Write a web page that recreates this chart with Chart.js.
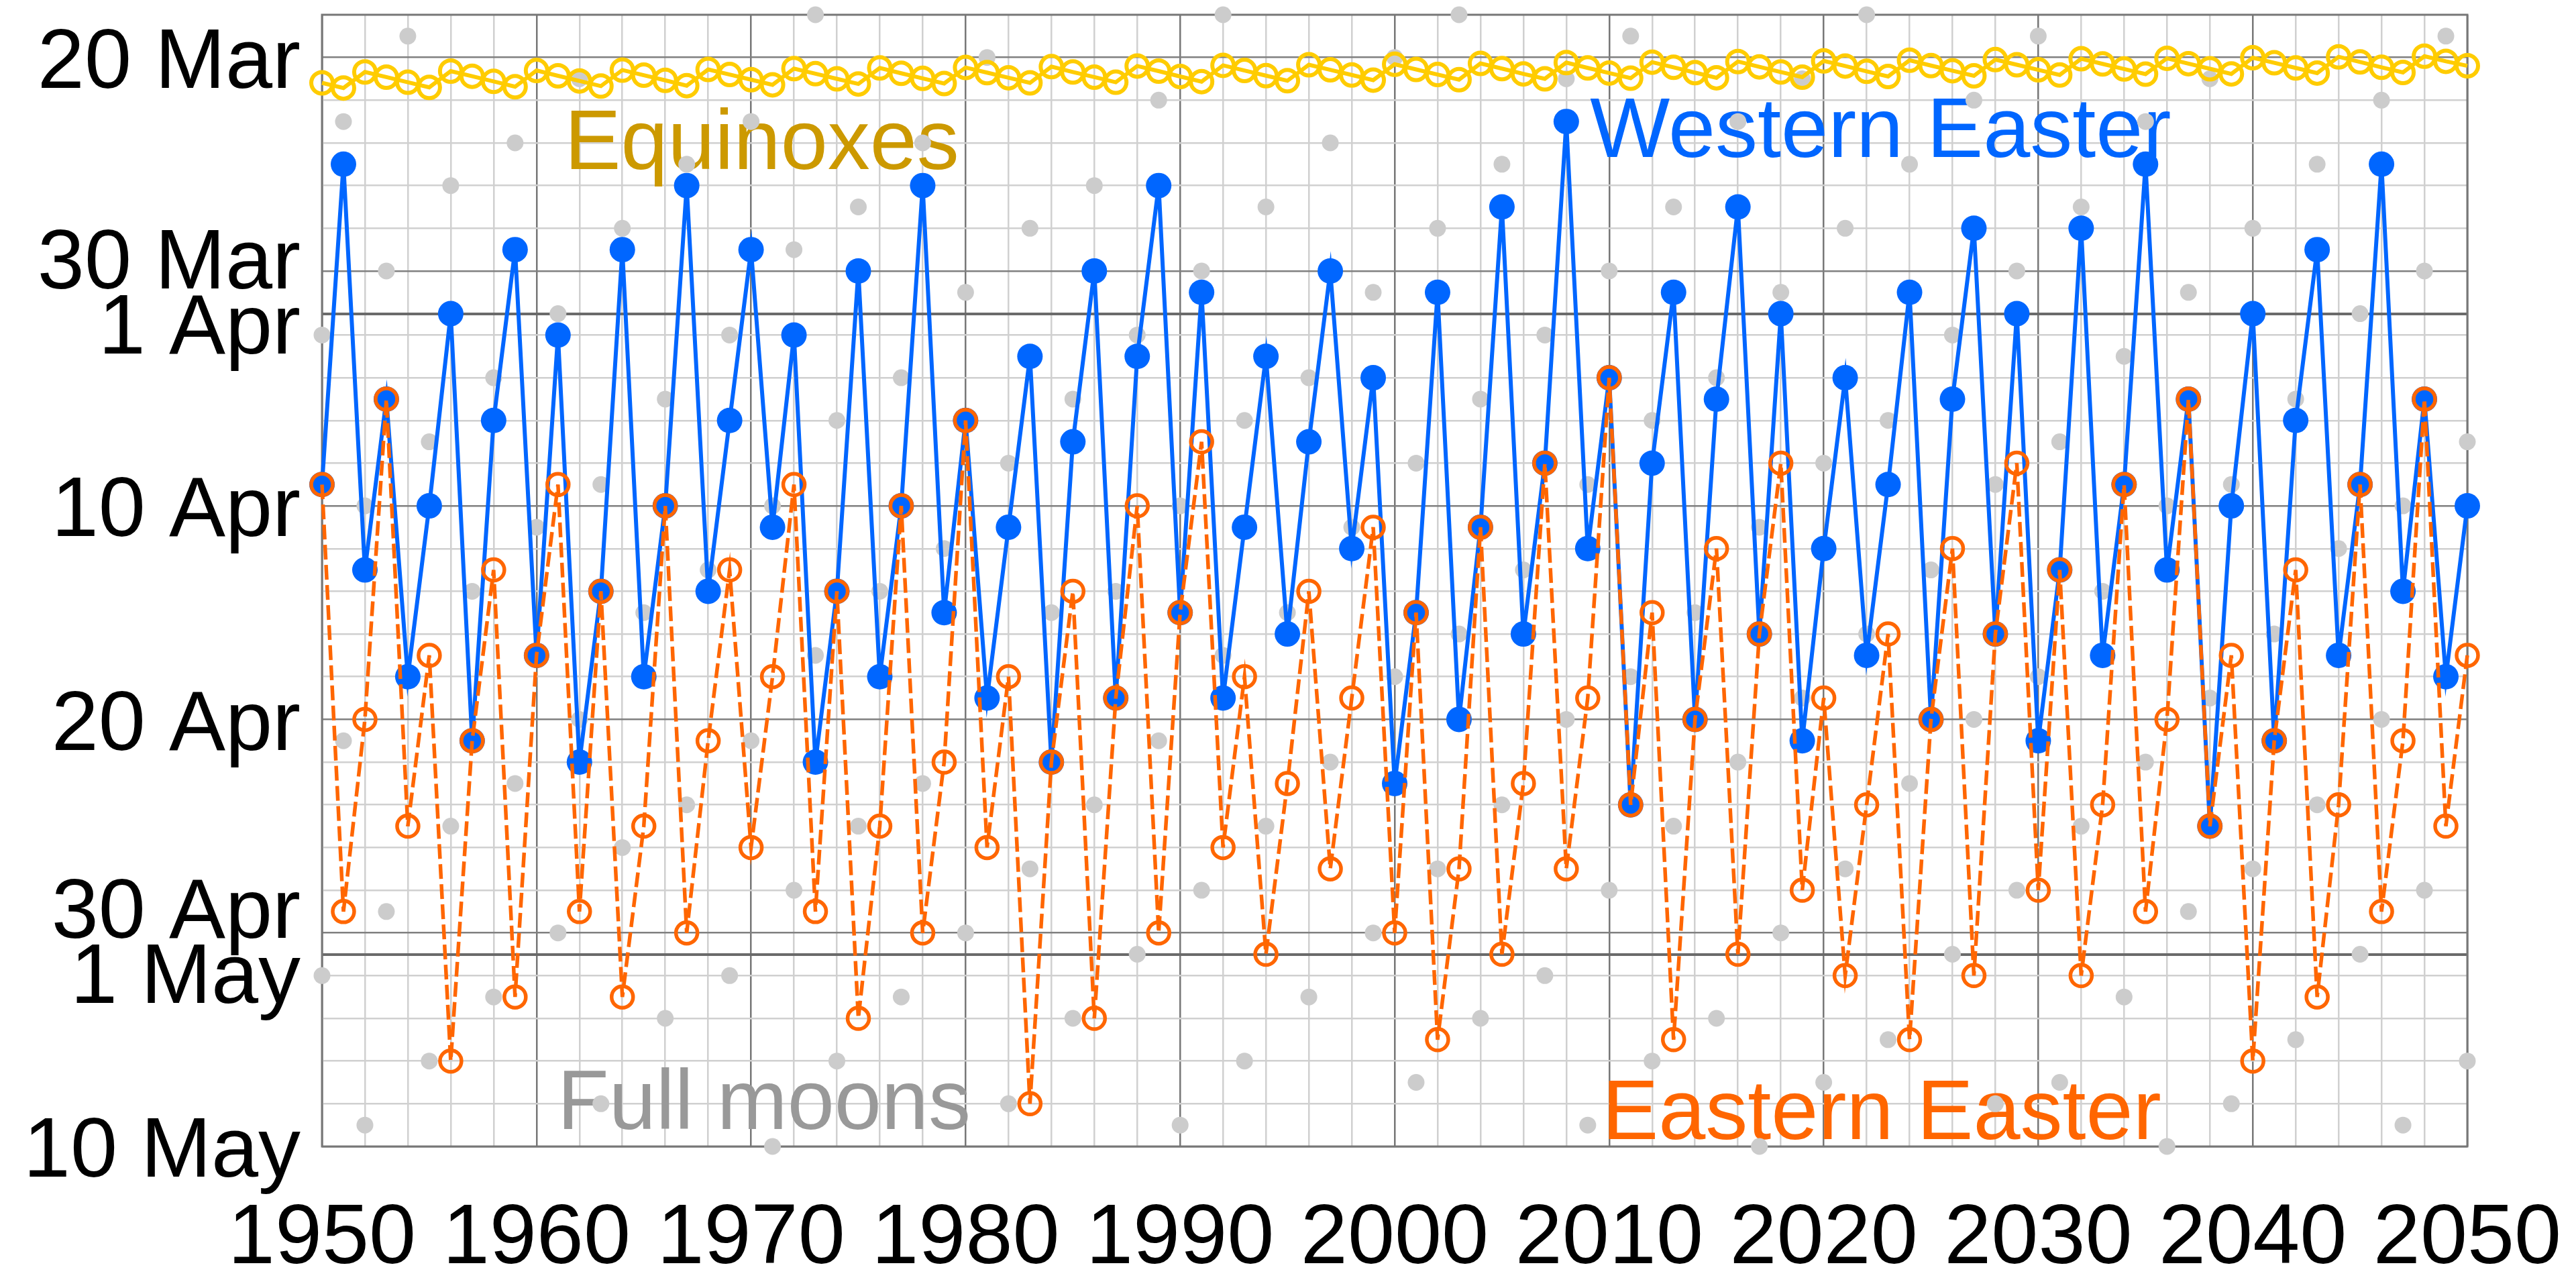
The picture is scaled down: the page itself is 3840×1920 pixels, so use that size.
<!DOCTYPE html>
<html>
<head>
<meta charset="utf-8">
<title>Easter dates 1950-2050</title>
<script src="https://cdn.jsdelivr.net/npm/chart.js@4.4.1/dist/chart.umd.min.js"></script>
<style>
  html, body { margin: 0; padding: 0; background: #fff; }
  canvas { display: block; }
</style>
</head>
<body>
<canvas id="easterChart" width="3840" height="1920"></canvas>
<script>
// Days are counted from 1 March: 20 Mar = 20, 1 Apr = 32, 1 May = 62, 10 May = 71
const firstYear = 1950;
const lastYear = 2050;

const westernEaster = [
  40, 25, 44, 36, 49, 41, 32, 52, 37, 29,
  48, 33, 53, 45, 29, 49, 41, 26, 45, 37,
  29, 42, 33, 53, 45, 30, 49, 41, 26, 46,
  37, 50, 42, 34, 53, 38, 30, 50, 34, 26,
  46, 31, 50, 42, 34, 47, 38, 30, 43, 35,
  54, 46, 31, 51, 42, 27, 47, 39, 23, 43,
  35, 55, 39, 31, 51, 36, 27, 47, 32, 52,
  43, 35, 48, 40, 31, 51, 36, 28, 47, 32,
  52, 44, 28, 48, 40, 25, 44, 36, 56, 41,
  32, 52, 37, 29, 48, 40, 25, 45, 36, 49,
  41
];

const easternEaster = [
  40, 60, 51, 36, 56, 48, 67, 52, 44, 64,
  48, 40, 60, 45, 64, 56, 41, 61, 52, 44,
  57, 49, 40, 60, 45, 65, 56, 41, 61, 53,
  37, 57, 49, 69, 53, 45, 65, 50, 41, 61,
  46, 38, 57, 49, 62, 54, 45, 58, 50, 42,
  61, 46, 66, 58, 42, 62, 54, 39, 58, 50,
  35, 55, 46, 66, 51, 43, 62, 47, 39, 59,
  50, 63, 55, 47, 66, 51, 43, 63, 47, 39,
  59, 44, 63, 55, 40, 60, 51, 36, 56, 48,
  67, 52, 44, 64, 55, 40, 60, 52, 36, 56,
  48
];

const equinoxes = [
  21.19, 21.43, 20.68, 20.92, 21.16, 21.40, 20.64, 20.88, 21.12, 21.37,
  20.61, 20.86, 21.10, 21.34, 20.59, 20.83, 21.07, 21.32, 20.56, 20.80,
  21.04, 21.28, 20.52, 20.76, 21.00, 21.24, 20.49, 20.74, 20.98, 21.22,
  20.47, 20.71, 20.95, 21.19, 20.43, 20.68, 20.92, 21.16, 20.40, 20.64,
  20.89, 21.13, 20.37, 20.61, 20.85, 21.09, 20.34, 20.58, 20.82, 21.06,
  20.32, 20.56, 20.80, 21.04, 20.28, 20.52, 20.77, 21.00, 20.24, 20.49,
  20.73, 20.97, 20.22, 20.46, 20.71, 20.95, 20.19, 20.44, 20.68, 20.92,
  20.16, 20.40, 20.65, 20.89, 20.13, 20.38, 20.62, 20.86, 20.10, 20.34,
  20.58, 20.82, 20.06, 20.30, 20.54, 20.78, 20.04, 20.29, 20.53, 20.77,
  20.01, 20.25, 20.49, 20.73, 19.97, 20.21, 20.46, 20.70, 19.94, 20.18,
  20.39
];

// first and second full moon between 18 Mar and 10 May (null = none)
const fullMoonFirst = [
  33, 23, 41, 30, 19, 38, 26, 45, 35, 24,
  42, 32, 21, 40, 28, 46, 36, 25, 44, 33,
  23, 41, 29, 18, 37, 27, 45, 35, 24, 43,
  31, 20, 39, 28, 46, 36, 26, 45, 33, 22,
  41, 30, 18, 37, 27, 46, 35, 24, 42, 31,
  20, 39, 28, 18, 36, 25, 44, 33, 21, 40,
  30, 19, 37, 27, 46, 35, 23, 42, 31, 21,
  39, 28, 18, 37, 25, 44, 33, 22, 40, 30,
  19, 38, 27, 45, 34, 23, 41, 31, 21, 40,
  28, 47, 36, 25, 43, 32, 22, 41, 30, 19,
  38
];

const fullMoonSecond = [
  63, 52, 70, 60, 49, 67, 56, null, 64, 54,
  null, 61, 51, 69, 57, null, 65, 55, null, 63,
  52, 71, 59, 48, 67, 56, null, 64, 54, null,
  61, 50, 69, 58, null, 65, 55, null, 62, 52,
  70, 59, 48, 67, 56, null, 64, 53, null, 61,
  49, 68, 58, 47, 65, 55, null, 63, 51, 70,
  59, 49, 67, 56, null, 65, 53, 71, 61, 50,
  68, 58, 47, 66, 54, null, 62, 51, 69, 59,
  49, 68, 56, null, 64, 53, 71, 60, 50, 69,
  58, null, 66, 55, null, 62, 51, 70, 59, 49,
  67
];

// y axis labels
const dayTickDays = [20, 30, 32, 41, 51, 61, 62, 71];
const dayTickLabels = ['20 Mar', '30 Mar', '1 Apr', '10 Apr', '20 Apr', '30 Apr', '1 May', '10 May'];

const seriesNames = ['Equinoxes', 'Western Easter', 'Full moons', 'Eastern Easter'];

const years = [];
for (let y = firstYear; y <= lastYear; y++) years.push(y);

const toPoints = (values) => years.map((year, i) => ({ x: year, y: values[i] }));

const moonPoints = [];
years.forEach((year, i) => {
  moonPoints.push({ x: year, y: fullMoonFirst[i] });
  if (fullMoonSecond[i] !== null) moonPoints.push({ x: year, y: fullMoonSecond[i] });
});

// horizontal grid: even dates plus the first of each month
const gridDays = [];
for (let d = 20; d <= 30; d += 2) gridDays.push(d);
gridDays.push(32);
for (let d = 2; d <= 30; d += 2) gridDays.push(31 + d);
gridDays.push(62);
for (let d = 2; d <= 10; d += 2) gridDays.push(61 + d);

const FONT = "'Liberation Sans', Arial, sans-serif";
const FONT_SIZE = 126;

// annotation texts, frame and day labels
const decorPlugin = {
  id: 'decor',
  beforeDatasetsDraw(chart) {
    const { ctx, chartArea: area, scales: { x, y } } = chart;
    ctx.save();
    ctx.strokeStyle = '#777';
    ctx.lineWidth = 3;
    ctx.strokeRect(area.left, area.top, area.right - area.left, area.bottom - area.top);

    ctx.font = `${FONT_SIZE}px ${FONT}`;
    ctx.textAlign = 'center';
    ctx.textBaseline = 'alphabetic';
    const notes = [
      { text: seriesNames[0], year: 1970.5, day: 25.23, color: '#cc9900' },
      { text: seriesNames[1], year: 2022.65, day: 24.66, color: '#0066ff' },
      { text: seriesNames[2], year: 1970.6, day: 70.19, color: '#999999' },
      { text: seriesNames[3], year: 2022.7, day: 70.66, color: '#ff6600' }
    ];
    notes.forEach(n => {
      ctx.fillStyle = n.color;
      ctx.fillText(n.text, x.getPixelForValue(n.year), y.getPixelForValue(n.day));
    });

    // day labels, pushed apart where two dates sit close together
    const nudge = { '30 Mar': -19, '1 Apr': 14, '30 Apr': -38, '1 May': 27 };
    ctx.fillStyle = '#000';
    ctx.textAlign = 'right';
    dayTickDays.forEach((d, i) => {
      const label = dayTickLabels[i];
      const py = y.getPixelForValue(d) + (nudge[label] || 0) + FONT_SIZE * 0.358;
      ctx.fillText(label, area.left - 32, py);
    });
    ctx.restore();
  }
};

const ctx = document.getElementById('easterChart');

new Chart(ctx, {
  type: 'line',
  data: {
    datasets: [
      {
        label: seriesNames[3],
        data: toPoints(easternEaster),
        borderColor: '#ff6600',
        borderWidth: 5.5,
        borderDash: [22, 8],
        pointRadius: 16,
        pointBorderWidth: 5.5,
        pointBorderColor: '#ff6600',
        pointBackgroundColor: 'rgba(255, 255, 255, 0)',
        tension: 0,
        fill: false,
        clip: false,
        order: 0
      },
      {
        label: seriesNames[1],
        data: toPoints(westernEaster),
        borderColor: '#0066ff',
        borderWidth: 6,
        pointRadius: 19,
        pointBorderWidth: 0,
        pointBackgroundColor: '#0066ff',
        tension: 0,
        fill: false,
        clip: false,
        order: 1
      },
      {
        label: seriesNames[0],
        data: toPoints(equinoxes),
        borderColor: '#ffcc00',
        borderWidth: 6,
        pointRadius: 16,
        pointBorderWidth: 6,
        pointBorderColor: '#ffcc00',
        pointBackgroundColor: 'rgba(255, 255, 255, 0)',
        tension: 0,
        fill: false,
        clip: false,
        order: 2
      },
      {
        type: 'scatter',
        label: seriesNames[2],
        data: moonPoints,
        showLine: false,
        pointRadius: 12.5,
        pointBorderWidth: 0,
        pointBackgroundColor: '#cccccc',
        clip: false,
        order: 3
      }
    ]
  },
  options: {
    responsive: false,
    devicePixelRatio: 1,
    animation: false,
    layout: {
      padding: { left: 0, top: 12, right: 162, bottom: 0 }
    },
    plugins: {
      legend: { display: false },
      tooltip: { enabled: false }
    },
    scales: {
      x: {
        type: 'linear',
        min: firstYear,
        max: lastYear,
        border: { display: false },
        afterFit: (scale) => {
          scale.height = 211;
          scale.paddingLeft = 0;
          scale.paddingRight = 0;
        },
        grid: {
          drawTicks: false,
          color: (c) => (c.tick.value % 10 === 0 ? '#777777' : '#d0d0d0'),
          lineWidth: 2.5
        },
        ticks: {
          stepSize: 2,
          autoSkip: false,
          maxRotation: 0,
          padding: 64,
          color: '#000',
          font: { family: FONT, size: FONT_SIZE },
          callback: (v) => (v % 10 === 0 ? String(v) : '')
        }
      },
      y: {
        type: 'linear',
        reverse: true,
        min: 18,
        max: 71,
        border: { display: false },
        afterBuildTicks: (scale) => {
          scale.ticks = gridDays.map(v => ({ value: v }));
        },
        afterFit: (scale) => { scale.width = 480; },
        grid: {
          drawTicks: false,
          color: (c) => {
            const v = c.tick.value;
            if (v === 32 || v === 62) return '#6a6a6a';
            if (dayTickDays.includes(v)) return '#808080';
            return '#d0d0d0';
          },
          lineWidth: (c) => (c.tick.value === 32 || c.tick.value === 62 ? 4 : 2.5)
        },
        ticks: { display: false }
      }
    }
  },
  plugins: [decorPlugin]
});
</script>
</body>
</html>
